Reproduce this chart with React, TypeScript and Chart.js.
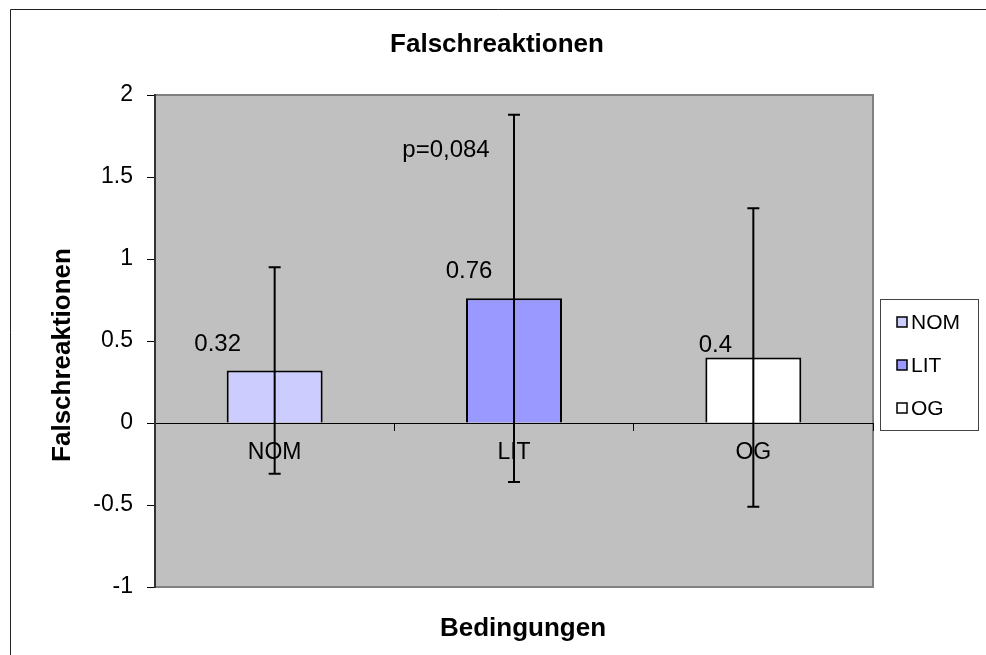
import React, { useEffect, useRef } from "react";
import { Chart, registerables } from "chart.js";

Chart.register(...registerables);

// ---- data ----
const categories = ["NOM", "LIT", "OG"];
const means = [0.32, 0.76, 0.4];
const errors = [0.63, 1.12, 0.91];
const barColors = ["#CCCCFF", "#9999FF", "#FFFFFF"];
const yTickValues = [-1, -0.5, 0, 0.5, 1, 1.5, 2];
const chartTitle = "Falschreaktionen";
const yAxisTitle = "Falschreaktionen";
const xAxisTitle = "Bedingungen";
const pText = "p=0,084";
const pCategory = "LIT";
const pValue = 1.665;

// ---- styling ----
const FONT = "'Liberation Sans', Arial, sans-serif";
const labelOffsets = [
  [-57, -26],
  [-45, -27],
  [-38, -12],
];

const framePlugin = {
  id: "frame",
  beforeDraw(chart: any) {
    const { ctx, chartArea } = chart;
    ctx.save();
    ctx.strokeStyle = "#222";
    ctx.lineWidth = 1;
    ctx.beginPath();
    ctx.moveTo(10.5, chart.height + 5);
    ctx.lineTo(10.5, 9.5);
    ctx.lineTo(chart.width + 5, 9.5);
    ctx.stroke();
    ctx.fillStyle = "#C0C0C0";
    ctx.fillRect(chartArea.left, chartArea.top, chartArea.right - chartArea.left, chartArea.bottom - chartArea.top);
    ctx.strokeStyle = "#808080";
    ctx.lineWidth = 2;
    ctx.strokeRect(chartArea.left, chartArea.top, chartArea.right - chartArea.left, chartArea.bottom - chartArea.top);
    ctx.restore();
  },
};

const overlayPlugin = {
  id: "overlay",
  afterDatasetsDraw(chart: any) {
    const { ctx, scales } = chart;
    const y = scales.y;
    const x = scales.x;
    const meta = chart.getDatasetMeta(0);
    ctx.save();
    ctx.strokeStyle = "#000";
    ctx.lineWidth = 2;
    meta.data.forEach((el: any, i: number) => {
      const top = y.getPixelForValue(means[i] + errors[i]);
      const bot = y.getPixelForValue(means[i] - errors[i]);
      ctx.beginPath();
      ctx.moveTo(el.x, top);
      ctx.lineTo(el.x, bot);
      ctx.moveTo(el.x - 6, top);
      ctx.lineTo(el.x + 6, top);
      ctx.moveTo(el.x - 6, bot);
      ctx.lineTo(el.x + 6, bot);
      ctx.stroke();
    });
    ctx.fillStyle = "#000";
    ctx.font = `24px ${FONT}`;
    ctx.textAlign = "center";
    ctx.textBaseline = "middle";
    meta.data.forEach((el: any, i: number) => {
      ctx.fillText(String(means[i]), el.x + labelOffsets[i][0], el.y + labelOffsets[i][1]);
    });
    const pi = categories.indexOf(pCategory);
    ctx.fillText(pText, x.getPixelForValue(pi) - 68, y.getPixelForValue(pValue));

    ctx.font = `bold 26px ${FONT}`;
    ctx.fillText(chartTitle, 497, 45);
    ctx.fillText(xAxisTitle, 523, 629);
    ctx.save();
    ctx.translate(63, 355);
    ctx.rotate(-Math.PI / 2);
    ctx.fillText(yAxisTitle, 0, 0);
    ctx.restore();

    ctx.strokeStyle = "#444";
    ctx.lineWidth = 1;
    ctx.fillStyle = "#fff";
    ctx.fillRect(880.5, 299.5, 98, 131);
    ctx.strokeRect(880.5, 299.5, 98, 131);
    ctx.font = `21px ${FONT}`;
    ctx.textAlign = "left";
    categories.forEach((c, i) => {
      const cy = 322 + i * 43;
      ctx.fillStyle = barColors[i];
      ctx.fillRect(897, cy - 5, 10, 10);
      ctx.strokeStyle = "#000";
      ctx.lineWidth = 1.5;
      ctx.strokeRect(897, cy - 5, 10, 10);
      ctx.fillStyle = "#000";
      ctx.fillText(c, 911, cy + 1);
    });
    ctx.restore();
  },
};

export default function App() {
  const ref = useRef<HTMLCanvasElement>(null);
  useEffect(() => {
    if (!ref.current) return;
    const chart = new Chart(ref.current, {
      type: "bar",
      data: {
        labels: categories,
        datasets: [
          {
            label: "Falschreaktionen",
            data: means,
            backgroundColor: barColors,
            borderColor: "#000",
            borderWidth: 2,
            barPercentage: 0.401,
            categoryPercentage: 1,
          },
        ],
      },
      options: {
        responsive: false,
        animation: false,
        devicePixelRatio: 1,
        layout: { padding: { left: 0, right: 113, top: 95, bottom: 68 } },
        plugins: {
          legend: { display: false },
          title: { display: false },
          tooltip: { enabled: false },
        },
        scales: {
          x: {
            position: { y: 0 } as any,
            offset: true,
            grid: {
              offset: true,
              drawOnChartArea: false,
              drawTicks: true,
              tickLength: 7,
              color: "#000",
            },
            border: { color: "#000", width: 1 },
            ticks: {
              color: "#000",
              font: { family: FONT, size: 23 },
              padding: 9,
              maxRotation: 0,
            },
          },
          y: {
            min: -1,
            max: 2,
            afterFit(scale: any) {
              scale.width = 155;
            },
            afterBuildTicks(scale: any) {
              scale.ticks = yTickValues.map((v) => ({ value: v }));
            },
            grid: {
              drawOnChartArea: false,
              drawTicks: true,
              tickLength: 8,
              color: "#000",
            },
            border: { color: "#333", width: 2 },
            ticks: {
              color: "#000",
              font: { family: FONT, size: 23 },
              padding: 14,
              callback: (v: any) => String(v),
            },
          },
        },
      },
      plugins: [framePlugin, overlayPlugin],
    });
    return () => chart.destroy();
  }, []);
  return (
    <div style={{ position: "absolute", left: 0, top: 0, width: 986, height: 655, background: "#fff" }}>
      <canvas ref={ref} width={986} height={655} style={{ display: "block" }} />
    </div>
  );
}
